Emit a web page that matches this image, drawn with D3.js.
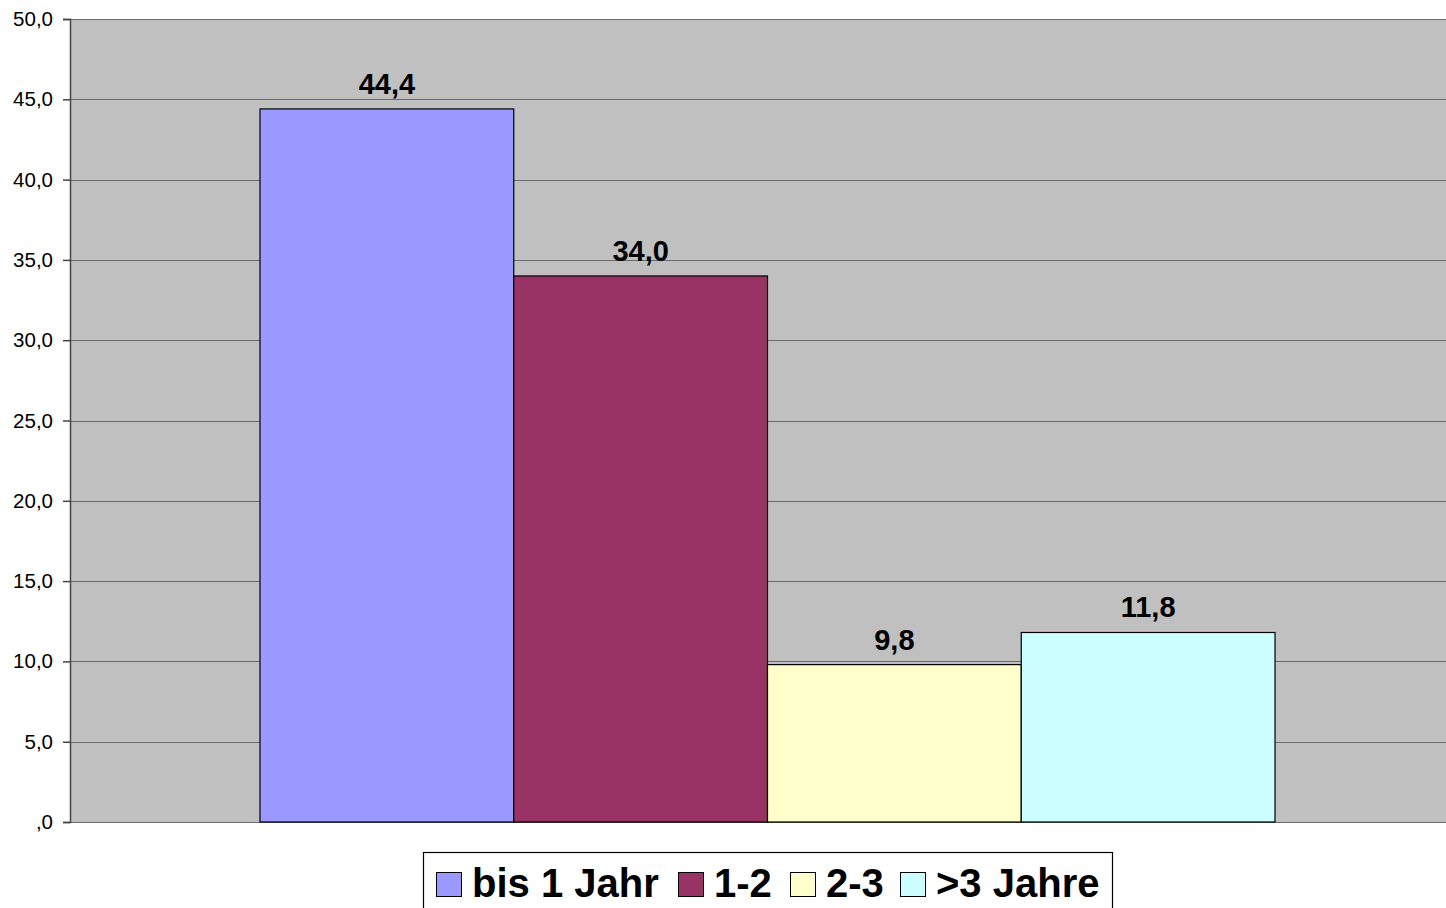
<!DOCTYPE html>
<html>
<head>
<meta charset="utf-8">
<script src="https://cdn.jsdelivr.net/npm/d3@7"></script>
<style>
  body { margin: 0; background: #fff; }
  svg { display: block; font-family: "Liberation Sans", Arial, sans-serif; }
</style>
</head>
<body>
<div id="chart"></div>
<script>
// data
var categories = ["bis 1 Jahr", "1-2", "2-3", ">3 Jahre"];
var values = [44.4, 34.0, 9.8, 11.8];
var colors = ["#9999FF", "#993366", "#FFFFCC", "#CCFFFF"];
var yTicks = [0, 5, 10, 15, 20, 25, 30, 35, 40, 45, 50];

var W = 1446, H = 908;
var margin = {top: 19, right: -19, bottom: 86, left: 70};
var width = W - margin.left - margin.right,
    height = H - margin.top - margin.bottom;

var fmt = function(v) {
  var s = d3.format(".1f")(v).replace(".", ",");
  return s.indexOf("0,") === 0 ? s.slice(1) : s;
};

var svg = d3.select("#chart").append("svg")
    .attr("width", W)
    .attr("height", H);

var g = svg.append("g")
    .attr("transform", "translate(" + margin.left + "," + margin.top + ")");

var y = d3.scaleLinear().domain([0, 50]).range([height, 0]);

// group of bars takes the middle of the plot
var x = d3.scaleBand()
    .domain(categories)
    .range([190, width - 190])
    .padding(0);

// plot background
g.append("rect")
    .attr("width", width)
    .attr("height", height)
    .attr("fill", "#C0C0C0");

// gridlines
g.selectAll(".grid")
  .data(yTicks)
  .enter().append("line")
    .attr("x1", 0).attr("x2", width)
    .attr("y1", function(d) { return Math.round(y(d)) + 0.5; })
    .attr("y2", function(d) { return Math.round(y(d)) + 0.5; })
    .attr("stroke", "#6b6b6b")
    .attr("stroke-width", 1.2);

// y axis
var yAxis = g.append("g")
    .call(d3.axisLeft(y).tickValues(yTicks).tickSize(7).tickPadding(10).tickFormat(fmt));
yAxis.select(".domain").attr("stroke", "#444").attr("stroke-width", 1.5);
yAxis.selectAll(".tick line").attr("stroke", "#444").attr("stroke-width", 1.5);
yAxis.selectAll(".tick text")
    .attr("font-size", 20.5)
    .attr("font-family", "Liberation Sans, Arial, sans-serif")
    .attr("fill", "#000");

// bars
g.selectAll(".bar")
  .data(values)
  .enter().append("rect")
    .attr("x", function(d, i) { return x(categories[i]); })
    .attr("y", function(d) { return y(d); })
    .attr("width", x.bandwidth())
    .attr("height", function(d) { return height - y(d); })
    .attr("fill", function(d, i) { return colors[i]; })
    .attr("stroke", "#000")
    .attr("stroke-width", 1.2);

// value labels
g.selectAll(".lbl")
  .data(values)
  .enter().append("text")
    .attr("x", function(d, i) { return x(categories[i]) + x.bandwidth() / 2; })
    .attr("y", function(d) { return y(d) - 15; })
    .attr("text-anchor", "middle")
    .attr("font-size", 29)
    .attr("font-weight", "bold")
    .text(fmt);

// legend
var legend = svg.append("g").attr("transform", "translate(423,852)");
legend.append("rect")
    .attr("x", 0.5).attr("y", 0.5)
    .attr("width", 689).attr("height", 70)
    .attr("fill", "#fff")
    .attr("stroke", "#000")
    .attr("stroke-width", 1.2);

var legX = [13, 255, 367, 477];
var item = legend.selectAll(".item")
  .data(categories)
  .enter().append("g")
    .attr("transform", function(d, i) { return "translate(" + legX[i] + ",0)"; });
item.append("rect")
    .attr("x", 0.5).attr("y", 20.5)
    .attr("width", 25).attr("height", 24)
    .attr("fill", function(d, i) { return colors[i]; })
    .attr("stroke", "#000")
    .attr("stroke-width", 1);
item.append("text")
    .attr("x", 36).attr("y", 45)
    .attr("font-size", 40)
    .attr("font-weight", "bold")
    .text(function(d) { return d; });
</script>
</body>
</html>
